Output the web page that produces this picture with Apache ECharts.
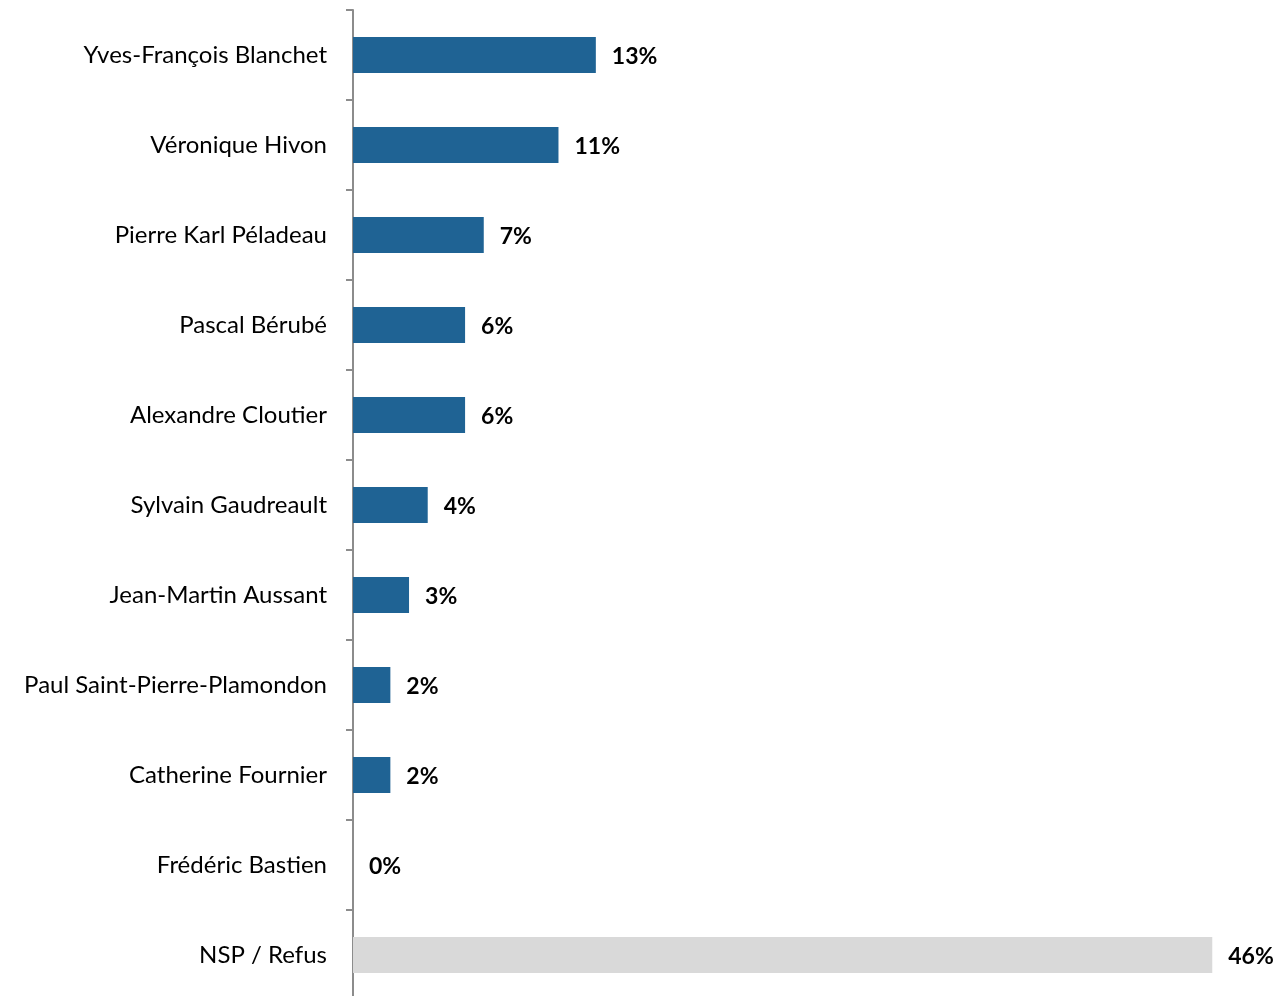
<!DOCTYPE html>
<html><head><meta charset="utf-8">
<script src="https://cdn.jsdelivr.net/npm/echarts@6/dist/echarts.min.js"></script>
<style>html,body{margin:0;padding:0;background:#fff}#c{width:1286px;height:996px}</style>
</head><body><div id="c"></div>
<script>
var categories = ["Yves-François Blanchet","Véronique Hivon","Pierre Karl Péladeau","Pascal Bérubé","Alexandre Cloutier","Sylvain Gaudreault","Jean-Martin Aussant","Paul Saint-Pierre-Plamondon","Catherine Fournier","Frédéric Bastien","NSP / Refus"];
var values = [13,11,7,6,6,4,3,2,2,0,46];
var chart = echarts.init(document.getElementById('c'));
var data = values.map(function(v,i){
  return {value:v, itemStyle:{color: i===values.length-1 ? '#D9D9D9' : '#1F6394'}};
});
chart.setOption({
  animation:false,
  grid:{left:353,width:934,top:10,height:990,containLabel:false,outerBoundsMode:'none'},
  xAxis:{type:'value',min:0,max:50,show:false},
  yAxis:{type:'category',data:categories,inverse:true,
    axisLine:{lineStyle:{color:'#8c8c8c',width:2}},
    axisTick:{show:true,length:7,lineStyle:{color:'#8c8c8c',width:2}},
    axisLabel:{fontFamily:'Lato',fontSize:24,color:'#000',margin:26}
  },
  series:[{type:'bar',data:data,barWidth:36,
    label:{show:true,position:'right',distance:16,offset:[0,2],formatter:'{c}%',fontFamily:'Lato',fontWeight:'bold',fontSize:23,color:'#000'}
  }]
});
</script></body></html>
